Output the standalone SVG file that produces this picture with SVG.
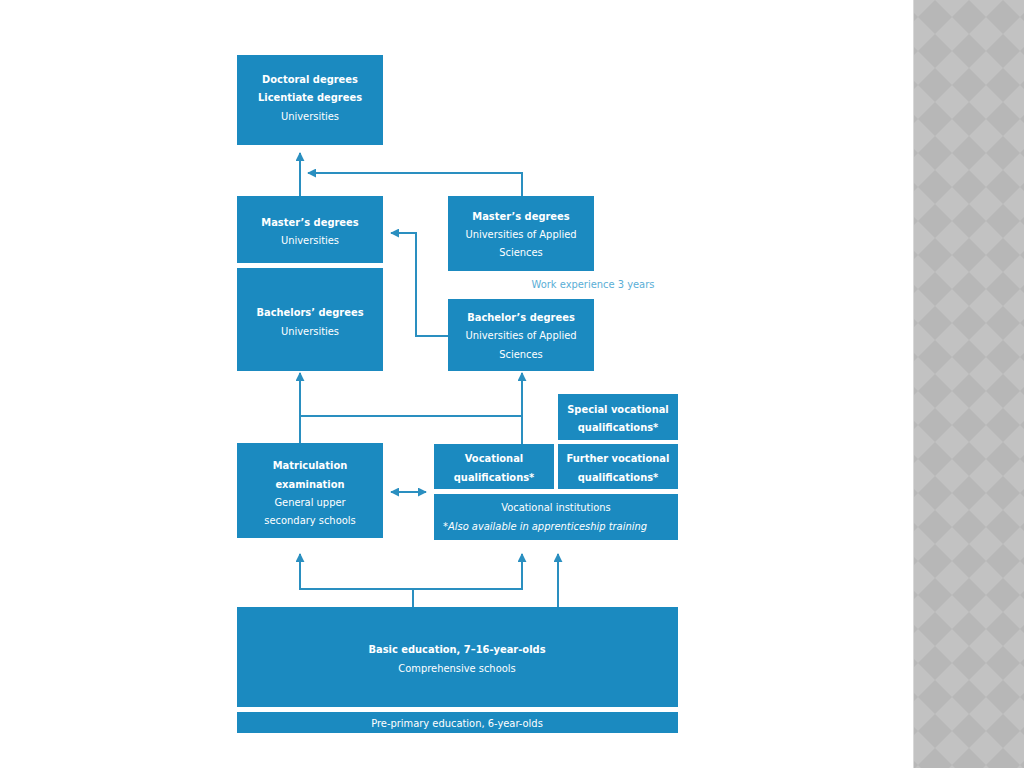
<svg xmlns="http://www.w3.org/2000/svg" width="1024" height="768" viewBox="0 0 1024 768">
<defs>
<style>
.box{fill:#1b8ac0;}
.t{font-family:"DejaVu Sans Condensed","Liberation Sans",sans-serif;font-size:11px;fill:#ffffff;text-anchor:middle;}
.b{font-weight:bold;}
.i{font-style:italic;}
.con{fill:none;stroke:#2a8fc0;stroke-width:2;}
.note{font-family:"DejaVu Sans Condensed","Liberation Sans",sans-serif;font-size:11px;fill:#5aaed6;text-anchor:middle;}
</style>
<marker id="ah" viewBox="0 0 10 10" refX="9" refY="5" markerWidth="4.5" markerHeight="4.5" orient="auto-start-reverse">
<path d="M0,0 L10,5 L0,10 z" fill="#2a8fc0"/>
</marker>
<pattern id="dia" width="34" height="34" patternUnits="userSpaceOnUse">
<rect width="34" height="34" fill="#c2c2c2"/>
<polygon points="17,0 34,17 17,34 0,17" fill="#b7b7b7"/>
</pattern>
</defs>
<rect width="1024" height="768" fill="#ffffff"/>
<rect x="913" y="0" width="111" height="768" fill="url(#dia)"/>
<line x1="913.5" y1="0" x2="913.5" y2="768" stroke="#d8d8d8" stroke-width="1"/>

<g id="connectors">
<path class="con" d="M300,196 V153" marker-end="url(#ah)"/>
<path class="con" d="M522,196 V173 H308" marker-end="url(#ah)"/>
<path class="con" d="M448,336 H416 V233 H391" marker-end="url(#ah)"/>
<path class="con" d="M300,443 V373" marker-end="url(#ah)"/>
<path class="con" d="M522,444 V373" marker-end="url(#ah)"/>
<path class="con" d="M300,416 H522"/>
<path class="con" d="M391,492 H426" marker-start="url(#ah)" marker-end="url(#ah)"/>
<path class="con" d="M413,607 V589 H300 V554" marker-end="url(#ah)"/>
<path class="con" d="M413,589 H522 V554" marker-end="url(#ah)"/>
<path class="con" d="M558,607 V554" marker-end="url(#ah)"/>
</g>

<g id="doctoral">
<rect class="box" x="237" y="55" width="146" height="90"/>
<text class="t b" x="310" y="83">Doctoral degrees</text>
<text class="t b" x="310" y="101">Licentiate degrees</text>
<text class="t" x="310" y="120">Universities</text>
</g>
<g id="masters-uni">
<rect class="box" x="237" y="196" width="146" height="67"/>
<text class="t b" x="310" y="226">Master’s degrees</text>
<text class="t" x="310" y="244">Universities</text>
</g>
<g id="bachelors-uni">
<rect class="box" x="237" y="268" width="146" height="103"/>
<text class="t b" x="310" y="316">Bachelors’ degrees</text>
<text class="t" x="310" y="335">Universities</text>
</g>
<g id="masters-uas">
<rect class="box" x="448" y="196" width="146" height="75"/>
<text class="t b" x="521" y="220">Master’s degrees</text>
<text class="t" x="521" y="238">Universities of Applied</text>
<text class="t" x="521" y="256">Sciences</text>
</g>
<text class="note" x="593" y="288">Work experience 3 years</text>
<g id="bachelors-uas">
<rect class="box" x="448" y="299" width="146" height="72"/>
<text class="t b" x="521" y="321">Bachelor’s degrees</text>
<text class="t" x="521" y="339">Universities of Applied</text>
<text class="t" x="521" y="358">Sciences</text>
</g>
<g id="special-vocational">
<rect class="box" x="558" y="394" width="120" height="46"/>
<text class="t b" x="618" y="413">Special vocational</text>
<text class="t b" x="618" y="431">qualifications*</text>
</g>
<g id="matriculation">
<rect class="box" x="237" y="443" width="146" height="95"/>
<text class="t b" x="310" y="469">Matriculation</text>
<text class="t b" x="310" y="488">examination</text>
<text class="t" x="310" y="506">General upper</text>
<text class="t" x="310" y="524">secondary schools</text>
</g>
<g id="vocational-qualifications">
<rect class="box" x="434" y="444" width="120" height="45"/>
<text class="t b" x="494" y="462">Vocational</text>
<text class="t b" x="494" y="481">qualifications*</text>
</g>
<g id="further-vocational">
<rect class="box" x="558" y="444" width="120" height="45"/>
<text class="t b" x="618" y="462">Further vocational</text>
<text class="t b" x="618" y="481">qualifications*</text>
</g>
<g id="vocational-institutions">
<rect class="box" x="434" y="494" width="244" height="46"/>
<text class="t" x="556" y="511">Vocational institutions</text>
<text class="t i" x="545" y="530">*Also available in apprenticeship training</text>
</g>
<g id="basic-education">
<rect class="box" x="237" y="607" width="441" height="100"/>
<text class="t b" x="457" y="653">Basic education, 7–16-year-olds</text>
<text class="t" x="457" y="672">Comprehensive schools</text>
</g>
<g id="pre-primary">
<rect class="box" x="237" y="712" width="441" height="21"/>
<text class="t" x="457" y="727">Pre-primary education, 6-year-olds</text>
</g>
</svg>
